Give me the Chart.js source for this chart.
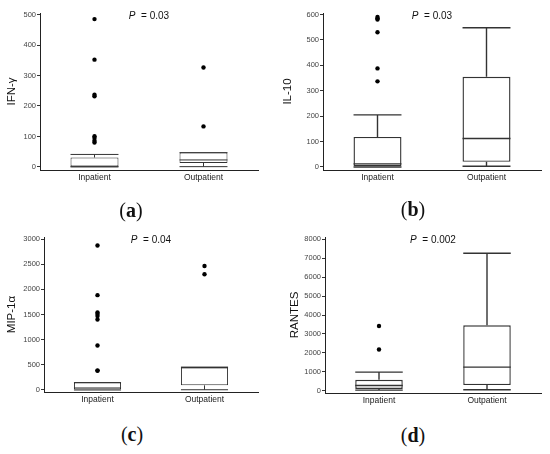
<!DOCTYPE html>
<html>
<head>
<meta charset="utf-8">
<script src="https://cdn.jsdelivr.net/npm/chart.js@4.4.1/dist/chart.umd.min.js"></script>
<style>
  body { margin: 0; background: #fff; width: 550px; height: 454px; position: relative; overflow: hidden; }
  .panel { position: absolute; width: 275px; height: 200px; }
  .tag { position: absolute; font-family: "Liberation Serif", "DejaVu Serif", serif; font-size: 20px; color: #111; transform: translate(-50%, -50%); white-space: nowrap; }
</style>
</head>
<body>
<div class="panel" style="left:0;top:0"><canvas id="chartA" width="275" height="200"></canvas></div>
<div class="panel" style="left:275px;top:0"><canvas id="chartB" width="275" height="200"></canvas></div>
<div class="panel" style="left:0;top:220px"><canvas id="chartC" width="275" height="200"></canvas></div>
<div class="panel" style="left:275px;top:220px"><canvas id="chartD" width="275" height="200"></canvas></div>
<div class="tag" style="left:131px;top:210px">(<b>a</b>)</div>
<div class="tag" style="left:413px;top:209px">(<b>b</b>)</div>
<div class="tag" style="left:132px;top:434px">(<b>c</b>)</div>
<div class="tag" style="left:413px;top:435px">(<b>d</b>)</div>
<script>
const groups = ["Inpatient", "Outpatient"];

// (a) IFN-γ
const ifnLow = [0, 1];
const ifnQ1 = [0, 13];
const ifnMedian = [2, 23];
const ifnQ3 = [31, 47];
const ifnHigh = [41, 47];
const ifnOutliersIn = [485, 352, 237, 232, 101, 95, 86, 80];
const ifnOutliersOut = [326, 133];
const ifnTicks = [0, 100, 200, 300, 400, 500];

// (b) IL-10
const il10Low = [0, 3];
const il10Q1 = [3, 20];
const il10Median = [12, 112];
const il10Q3 = [118, 355];
const il10High = [205, 548];
const il10OutliersIn = [590, 585, 580, 530, 388, 337];
const il10OutliersOut = [];
const il10Ticks = [0, 100, 200, 300, 400, 500, 600];

// (c) MIP-1α
const mipLow = [0, 5];
const mipQ1 = [0, 92];
const mipMedian = [40, 440];
const mipQ3 = [148, 455];
const mipHigh = [148, 455];
const mipOutliersIn = [2870, 1885, 1540, 1510, 1470, 1400, 883, 390, 380];
const mipOutliersOut = [2465, 2300];
const mipTicks = [0, 500, 1000, 1500, 2000, 2500, 3000];

// (d) RANTES
const rantesLow = [30, 55];
const rantesQ1 = [90, 298];
const rantesMedian = [280, 1245];
const rantesQ3 = [580, 3455];
const rantesHigh = [985, 7265];
const rantesOutliersIn = [3420, 2175];
const rantesOutliersOut = [];
const rantesTicks = [0, 1000, 2000, 3000, 4000, 5000, 6000, 7000, 8000];

const yTitles = ["IFN-γ", "IL-10", "MIP-1α", "RANTES"];
const pValues = ["0.03", "0.03", "0.04", "0.002"];

Chart.defaults.font.family = "'Liberation Sans', Arial, sans-serif";

const lineColor = "#333";

// whiskers, caps and median line on top of the floating bars
function boxWhiskers(s, lw) {
  return {
    id: "boxWhiskers",
    afterDatasetsDraw(chart) {
      const xs = chart.scales.x, ys = chart.scales.y;
      const bars = chart.getDatasetMeta(0).data;
      const ctx = chart.ctx;
      const py = (v) => ys.getPixelForValue(v);
      ctx.save();
      ctx.strokeStyle = lineColor;
      ctx.lineWidth = lw;
      groups.forEach((g, i) => {
        const cx = xs.getPixelForValue(i);
        const half = bars[i].width / 2;
        ctx.beginPath();
        ctx.moveTo(cx, py(s.q3[i])); ctx.lineTo(cx, py(s.high[i]));
        ctx.moveTo(cx, py(s.q1[i])); ctx.lineTo(cx, py(s.low[i]));
        ctx.moveTo(cx - half, py(s.high[i])); ctx.lineTo(cx + half, py(s.high[i]));
        ctx.moveTo(cx - half, py(s.low[i])); ctx.lineTo(cx + half, py(s.low[i]));
        ctx.moveTo(cx - half, py(s.median[i])); ctx.lineTo(cx + half, py(s.median[i]));
        ctx.stroke();
      });
      ctx.restore();
    }
  };
}

// "P = x" label at top of the plot
function pLabel(p) {
  return {
    id: "pLabel",
    afterDraw(chart) {
      const ctx = chart.ctx, a = chart.chartArea;
      const rest = "  = " + p;
      ctx.save();
      ctx.fillStyle = "#111";
      ctx.textBaseline = "middle";
      ctx.font = "italic 10px 'Liberation Sans', Arial, sans-serif";
      const wp = ctx.measureText("P").width;
      ctx.font = "10px 'Liberation Sans', Arial, sans-serif";
      const wr = ctx.measureText(rest).width;
      let x = (a.left + a.right) / 2 - (wp + wr) / 2;
      const y = a.top + 3;
      ctx.font = "italic 10px 'Liberation Sans', Arial, sans-serif";
      ctx.fillText("P", x, y);
      ctx.font = "10px 'Liberation Sans', Arial, sans-serif";
      ctx.fillText(rest, x + wp, y);
      ctx.restore();
    }
  };
}

function makeBoxChart(id, s, outIn, outOut, ticks, yMin, yMax, title, p, geo) {
  const outliers = outIn.map((v) => ({ x: groups[0], y: v }))
    .concat(outOut.map((v) => ({ x: groups[1], y: v })));
  return new Chart(document.getElementById(id), {
    type: "bar",
    data: {
      labels: groups,
      datasets: [
        {
          data: groups.map((g, i) => [s.q1[i], s.q3[i]]),
          backgroundColor: "#fff",
          borderColor: lineColor,
          borderWidth: geo.lw,
          borderSkipped: false,
          barPercentage: 0.44,
          categoryPercentage: 1
        },
        {
          type: "line",
          data: outliers,
          showLine: false,
          pointRadius: 2.2,
          pointBackgroundColor: "#000",
          pointBorderWidth: 0
        }
      ]
    },
    options: {
      responsive: false,
      animation: false,
      layout: { padding: { top: geo.padTop, right: geo.padRight, left: 0, bottom: 0 } },
      plugins: { legend: { display: false }, tooltip: { enabled: false } },
      scales: {
        x: {
          offset: true,
          afterFit(sc) { sc.height = geo.xHeight; },
          grid: { display: false, drawTicks: false },
          border: { display: true, color: "#222", width: 1 },
          ticks: { font: { size: 8.5 }, color: "#222", padding: 3 }
        },
        y: {
          min: yMin,
          max: yMax,
          afterBuildTicks(sc) { sc.ticks = ticks.map((v) => ({ value: v })); },
          afterFit(sc) { sc.width = geo.yWidth; },
          grid: { drawOnChartArea: false, drawTicks: true, tickLength: 3, color: "#333" },
          border: { display: true, color: "#222", width: 1 },
          ticks: { font: { size: 7.5 }, color: "#444", padding: 1, callback: (v) => String(v) },
          title: { display: true, text: title, font: { size: 11.5 }, color: "#111", padding: { top: geo.titlePad, bottom: 0 } }
        }
      }
    },
    plugins: [boxWhiskers(s, geo.lw), pLabel(p)]
  });
}

makeBoxChart("chartA",
  { low: ifnLow, q1: ifnQ1, median: ifnMedian, q3: ifnQ3, high: ifnHigh },
  ifnOutliersIn, ifnOutliersOut, ifnTicks, -10, 505, yTitles[0], pValues[0],
  { padTop: 13, padRight: 17, yWidth: 40, xHeight: 30, titlePad: 5, lw: 1 });

makeBoxChart("chartB",
  { low: il10Low, q1: il10Q1, median: il10Median, q3: il10Q3, high: il10High },
  il10OutliersIn, il10OutliersOut, il10Ticks, -12, 606, yTitles[1], pValues[1],
  { padTop: 13, padRight: 9, yWidth: 48, xHeight: 30, titlePad: 6, lw: 1.4 });

makeBoxChart("chartC",
  { low: mipLow, q1: mipQ1, median: mipMedian, q3: mipQ3, high: mipHigh },
  mipOutliersIn, mipOutliersOut, mipTicks, -40, 3040, yTitles[2], pValues[2],
  { padTop: 17, padRight: 17, yWidth: 44, xHeight: 28, titlePad: 5, lw: 1 });

makeBoxChart("chartD",
  { low: rantesLow, q1: rantesQ1, median: rantesMedian, q3: rantesQ3, high: rantesHigh },
  rantesOutliersIn, rantesOutliersOut, rantesTicks, -120, 8120, yTitles[3], pValues[3],
  { padTop: 17, padRight: 9, yWidth: 50, xHeight: 27, titlePad: 13, lw: 1.4 });
</script>
</body>
</html>
